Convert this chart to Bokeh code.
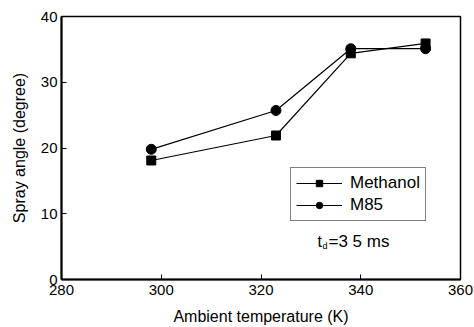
from bokeh.plotting import figure
from bokeh.models import Legend, LegendItem, Label, FixedTicker, Range1d
from bokeh.embed import file_html
from bokeh.resources import INLINE

temperature = [298, 323, 338, 353]
methanol = [18.1, 21.9, 34.4, 35.9]
m85 = [19.8, 25.7, 35.1, 35.1]
x_ticks = [280, 300, 320, 340, 360]
y_ticks = [0, 10, 20, 30, 40]

FONT = "Liberation Sans"

p = figure(width=474, height=327, output_backend="svg", toolbar_location=None,
           x_range=Range1d(280, 360), y_range=Range1d(0, 40),
           min_border_left=61, min_border_right=14, min_border_top=16, min_border_bottom=48)
p.xgrid.visible = False
p.ygrid.visible = False
p.outline_line_color = "black"
p.outline_line_width = 1.5
p.background_fill_color = "white"
p.border_fill_color = "white"

for ax in (p.xaxis[0], p.yaxis[0]):
    ax.axis_line_width = 2
    ax.axis_line_color = "black"
    ax.major_tick_in = 5
    ax.major_tick_out = 0
    ax.minor_tick_in = 0
    ax.minor_tick_out = 0
    ax.major_tick_line_color = "black"
    ax.major_label_text_font = FONT
    ax.major_label_text_font_size = "15px"
    ax.major_label_text_color = "black"
    ax.axis_label_text_font = FONT
    ax.axis_label_text_font_size = "16px"
    ax.axis_label_text_font_style = "normal"
    ax.axis_label_text_color = "black"

p.xaxis.ticker = FixedTicker(ticks=x_ticks)
p.yaxis.ticker = FixedTicker(ticks=y_ticks)
p.xaxis.axis_label = "Ambient temperature (K)"
p.yaxis.axis_label = "Spray angle (degree)"
p.xaxis.major_label_standoff = 5
p.xaxis.axis_label_standoff = 10
p.yaxis.major_label_standoff = 4
p.yaxis.axis_label_standoff = 10

l1 = p.line(temperature, methanol, line_color="black", line_width=1.2)
s1 = p.scatter(temperature, methanol, marker="square", size=9, fill_color="black", line_color="black")
l2 = p.line(temperature, m85, line_color="black", line_width=1.2)
s2 = p.scatter(temperature, m85, marker="circle", size=10, fill_color="black", line_color="black")

legend = Legend(items=[LegendItem(label="Methanol", renderers=[l1, s1]),
                       LegendItem(label="M85", renderers=[l2, s2])],
                location=(229, 58), border_line_color="black", border_line_width=1,
                label_text_font=FONT, label_text_font_size="17px", label_text_color="black",
                glyph_width=46, glyph_height=16, label_standoff=8, spacing=2,
                padding=5, margin=0, background_fill_alpha=1.0, label_height=16)
p.add_layout(legend)

p.add_layout(Label(x=256, y=38, x_units="screen", y_units="screen", text="t",
                   text_font=FONT, text_font_size="16px", text_color="black",
                   text_baseline="alphabetic"))
p.add_layout(Label(x=261, y=34, x_units="screen", y_units="screen", text="d",
                   text_font=FONT, text_font_size="9px", text_color="black",
                   text_baseline="alphabetic"))
p.add_layout(Label(x=267, y=38, x_units="screen", y_units="screen", text="=3 5 ms",
                   text_font=FONT, text_font_size="17px", text_color="black",
                   text_baseline="alphabetic"))

open("out.html", "w").write(file_html(p, INLINE))
